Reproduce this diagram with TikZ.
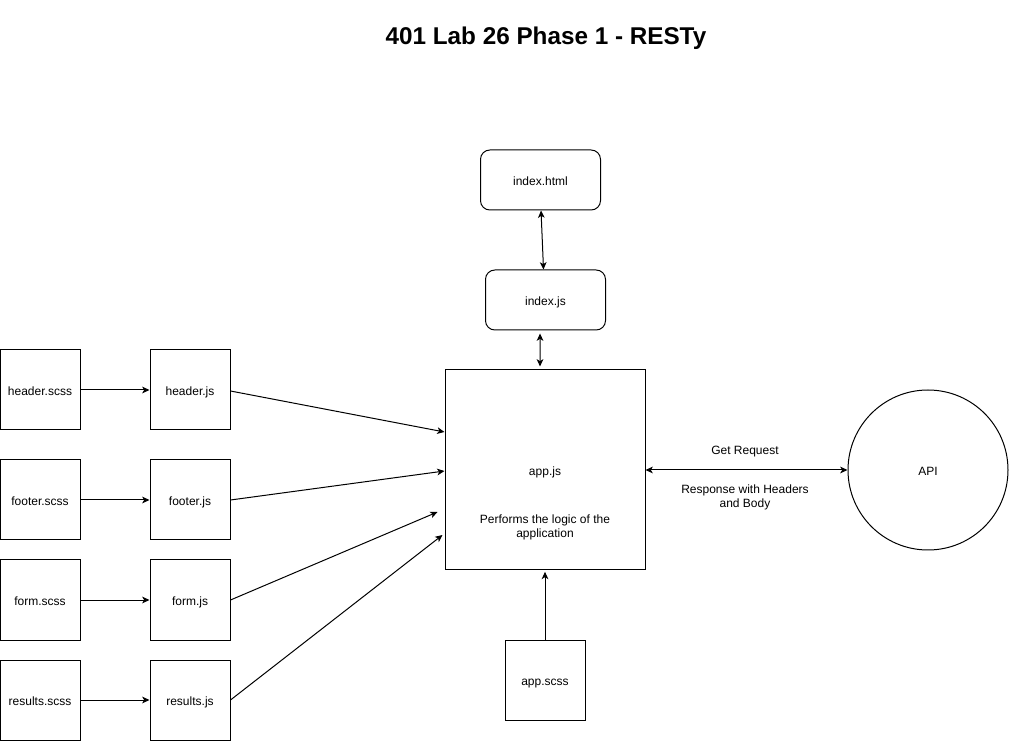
\documentclass[tikz,border=0pt]{standalone}
\usepackage{fontspec}
\setmainfont{Liberation Sans}
\usetikzlibrary{arrows.meta}
\begin{document}
\begin{tikzpicture}[x=0.75pt,y=-0.75pt,
  lbl/.style={font=\fontsize{9}{10.5}\selectfont},
  box/.style={draw, line width=0.75pt, minimum width=60pt, minimum height=60pt, inner sep=0pt, text height=8.6pt, text depth=0pt, lbl},
  rbox/.style={draw, rounded corners=7pt, line width=0.75pt, minimum width=90pt, minimum height=45pt, inner sep=0pt, text height=8.6pt, text depth=0pt, lbl},
  tip/.tip={Stealth[length=5.5pt,width=5pt,inset=1.5pt]},
  arr/.style={-tip, line width=0.75pt},
  darr/.style={tip-tip, line width=0.75pt}
]
\useasboundingbox (0,0) rectangle (1011,741);
% title
\node[font=\fontsize{18.2}{21}\selectfont\bfseries] (title) at (546,38) {401 Lab 26 Phase 1 - RESTy};
% top nodes
\node[rbox] (ihtml) at (540.5,180) {index.html};
\node[rbox] (ijs) at (545.5,300) {index.js};
% app
\node[box, minimum width=150pt, minimum height=150pt] (app) at (545,470) {};
\node[lbl] (applbl) at (545,472) {app.js};
\node[lbl, align=center] (appdesc) at (545,527) {Performs the logic of the\\application};
% api
\node[draw, circle, line width=0.75pt, minimum size=120pt, inner sep=0pt, text height=8.6pt, text depth=0pt, lbl] (api) at (928,470) {API};
% left boxes
\node[box] (hscss) at (40,390) {header.scss};
\node[box] (hjs) at (190,390) {header.js};
\node[box] (fscss) at (40,500) {footer.scss};
\node[box] (fjs) at (190,500) {footer.js};
\node[box] (mscss) at (40,600) {form.scss};
\node[box] (mjs) at (190,600) {form.js};
\node[box] (rscss) at (40,700) {results.scss};
\node[box] (rjs) at (190,700) {results.js};
% app.scss
\node[box] (ascss) at (545,680) {app.scss};
% connectors
\draw[arr] (hscss) -- (hjs);
\draw[arr] (fscss) -- (fjs);
\draw[arr] (mscss) -- (mjs);
\draw[arr] (rscss) -- (rjs);
\draw[arr] ([yshift=-0.75pt]hjs.east) -- ([yshift=28.5pt]app.west);
\draw[arr] (fjs.east) -- ([yshift=-0.75pt]app.west);
\draw[arr] (mjs.east) -- ([xshift=-5.25pt,yshift=-31.5pt]app.west);
\draw[arr] (rjs.east) -- ([xshift=-1.5pt,yshift=-48.75pt]app.west);
\draw[darr] ([xshift=0.4pt]ihtml.south) -- ([xshift=-1.5pt]ijs.north);
\draw[darr, shorten <=2.25pt, shorten >=2.25pt] ([xshift=-4.1pt]ijs.south) -- ([xshift=-3.75pt]app.north);
\draw[arr, shorten >=1pt] (ascss.north) -- (app.south);
\draw[darr] (app.east) -- (api.west);
\node[lbl] (getreq) at (745,452) {Get Request};
\node[lbl, align=center] (resp) at (745,497) {Response with Headers\\and Body};
\end{tikzpicture}
\end{document}
